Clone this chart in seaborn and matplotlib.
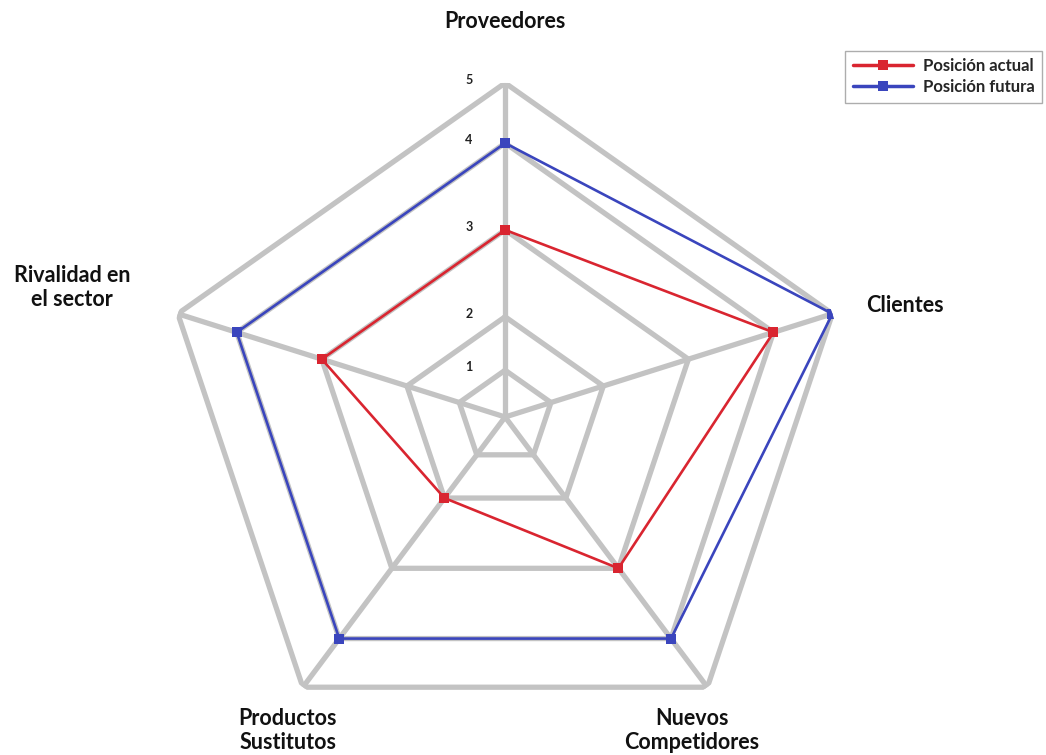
import numpy as np
import pandas as pd
import matplotlib
matplotlib.use("Agg")
import matplotlib.pyplot as plt
import seaborn as sns

# -----------------------------
# data
# -----------------------------
categories = ["Proveedores", "Clientes", "Nuevos\nCompetidores",
              "Productos\nSustitutos", "Rivalidad en\nel sector"]
actual = [3, 4, 3, 2, 3]
futura = [4, 5, 4, 4, 4]
series_names = ["Posición actual", "Posición futura"]
ticks = [1, 2, 3, 4, 5]

# ring spacing of the original chart is not linear
ring_frac = [0.0, 0.14, 0.30, 0.56, 0.82, 1.0]

def fwd(v):
    return np.interp(v, [0, 1, 2, 3, 4, 5], ring_frac) * 5

def inv(r):
    return np.interp(r, np.array(ring_frac) * 5, [0, 1, 2, 3, 4, 5])

sns.set_theme(style="white")
plt.rcParams['font.family'] = ['Lato', 'DejaVu Sans']

n = len(categories)
angles = np.linspace(0, 2 * np.pi, n, endpoint=False)
ang_closed = np.append(angles, angles[0] + 2 * np.pi)

rows = []
for name, vals in zip(series_names, [actual, futura]):
    for a, v in zip(ang_closed, list(vals) + [vals[0]]):
        rows.append({"theta": a, "valor": v, "serie": name})
df = pd.DataFrame(rows)

fig = plt.figure(figsize=(10.46, 7.55), dpi=100)
# slightly wider than tall, like the original picture
ax = fig.add_axes([0.1539, 0.0053, 0.6580, 0.8848], projection="polar")
ax.set_aspect("auto")
ax.set_theta_offset(np.pi / 2)
ax.set_theta_direction(-1)
ax.set_rscale("function", functions=(fwd, inv))
ax.set_rlim(0, 5)
ax.grid(False)
ax.spines["polar"].set_visible(False)
ax.set_xticks([])
ax.set_yticks([])

grid_col = "#c3c3c3"
for t in ticks:
    ax.plot(ang_closed, [t] * len(ang_closed), color=grid_col, lw=3.8,
            solid_joinstyle="miter", zorder=1)
for a in angles:
    ax.plot([a, a], [0, 5], color=grid_col, lw=3.8, zorder=1)

palette = {"Posición actual": "#d92530", "Posición futura": "#3a45bd"}
sns.lineplot(data=df, x="theta", y="valor", hue="serie", palette=palette,
             sort=False, estimator=None, marker="s", markersize=7,
             markeredgewidth=0, linewidth=1.9, ax=ax, legend=False, zorder=3)
ax.set_xlabel("")
ax.set_ylabel("")

# tick labels along the top axis
for t in ticks:
    ax.annotate(str(t), xy=(0, t), xytext=(-26, 2), textcoords="offset points",
                ha="center", va="center", fontsize=9, fontweight="bold",
                color="#222222", annotation_clip=False)

# category labels
offsets = [(0, 44, "center"), (24, 6, "left"), (-11, -31, "center"),
           (-11, -31, "center"), (-76, 19, "center")]
for a, lab, (dx, dy, ha) in zip(angles, categories, offsets):
    ax.annotate(lab, xy=(a, 5), xytext=(dx, dy), textcoords="offset points",
                ha=ha, va="center", fontsize=15.5, fontweight="bold",
                color="#111111", linespacing=1.2, annotation_clip=False)

# legend
handles = [plt.Line2D([0], [0], color=palette[s], lw=2.5, marker="s",
                      markersize=7, markeredgewidth=0) for s in series_names]
leg = fig.legend(handles, series_names, loc="upper right",
                 bbox_to_anchor=(1.004, 0.944), fontsize=12, frameon=True,
                 fancybox=False, edgecolor="#999999", handlelength=3.6,
                 borderpad=0.45, labelspacing=0.3, handletextpad=0.6)
leg.get_frame().set_linewidth(1.0)
for txt in leg.get_texts():
    txt.set_fontweight("bold")

plt.savefig("out.png", dpi=100, facecolor="white")
